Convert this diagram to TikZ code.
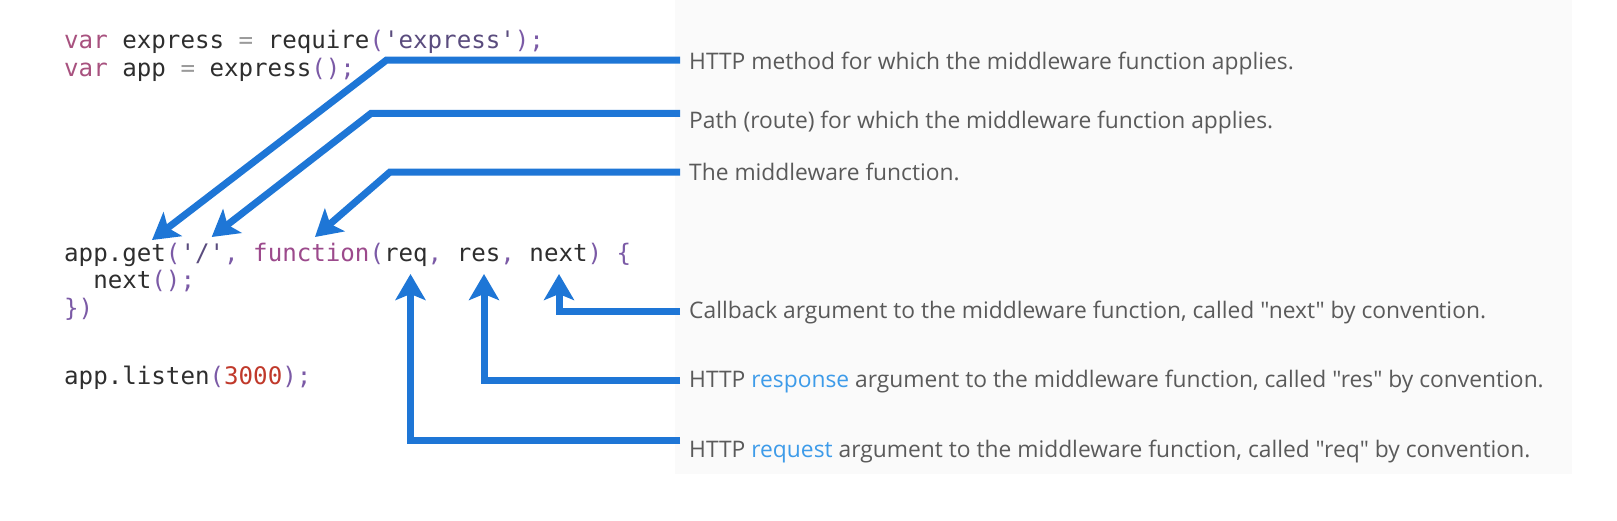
\documentclass[tikz,border=0pt]{standalone}
\usepackage{fontspec}
\usetikzlibrary{arrows.meta}
\newfontfamily\codefont{DejaVu Sans Mono}
\newfontfamily\labfont{Open Sans}
\definecolor{arrowblue}{HTML}{1E76D6}
\definecolor{panelgray}{HTML}{FAFAFA}
\definecolor{kwc}{HTML}{A8527F}
\definecolor{plainc}{HTML}{2E2E2E}
\definecolor{opc}{HTML}{9A9A9A}
\definecolor{puncc}{HTML}{7B5AA6}
\definecolor{strc}{HTML}{5A4C7E}
\definecolor{funcc}{HTML}{9C4A8C}
\definecolor{numc}{HTML}{C0392B}
\definecolor{labc}{HTML}{5A5A5A}
\definecolor{hlc}{HTML}{3D9BE9}
\newcommand{\kw}[1]{\textcolor{kwc}{#1}}
\newcommand{\op}[1]{\textcolor{opc}{#1}}
\newcommand{\pu}[1]{\textcolor{puncc}{#1}}
\newcommand{\st}[1]{\textcolor{strc}{#1}}
\newcommand{\fn}[1]{\textcolor{funcc}{#1}}
\newcommand{\nm}[1]{\textcolor{numc}{#1}}
\newcommand{\hl}[1]{\textcolor{hlc}{#1}}
\newcommand{\q}{\textquotesingle}
\tikzset{
  codeline/.style={anchor=base west, inner sep=0pt, text=plainc,
    font=\codefont\fontsize{24.15}{28}\selectfont},
  labeltext/.style={anchor=base west, inner sep=0pt, text=labc,
    font=\labfont\fontsize{22.8}{27}\selectfont},
  arr/.style={draw=arrowblue, line width=7pt,
    -{Stealth[length=26pt,width=30pt,inset=6pt]}}
}
\begin{document}
\begin{tikzpicture}[x=1pt,y=-1pt]
\useasboundingbox (0,0) rectangle (1617,520);
\fill[white] (0,0) rectangle (1617,520);
\fill[panelgray] (675,0) rectangle (1572,474);

% code
\node[codeline] (c1) at (64,48) {\kw{var} express \op{=} require\pu{(}\st{\q express\q}\pu{);}};
\node[codeline] (c2) at (64,76) {\kw{var} app \op{=} express\pu{();}};
\node[codeline] (c3) at (64,261) {app.get\pu{(}\st{\q/\q}\pu{,} \fn{function}\pu{(}req\pu{,} res\pu{,} next\pu{)} \pu{\{}};
\node[codeline] (c4) at (64,288.5) {\phantom{xx}next\pu{();}};
\node[codeline] (c5) at (64,316) {\pu{\})}};
\node[codeline] (c6) at (64,384) {app.listen\pu{(}\nm{3000}\pu{);}};

% labels
\node[labeltext] (t1) at (689,69.5) {HTTP method for which the middleware function applies.};
\node[labeltext] (t2) at (689,128) {Path (route) for which the middleware function applies.};
\node[labeltext] (t3) at (689,180.5) {The middleware function.};
\node[labeltext] (t4) at (689,318.5) {Callback argument to the middleware function, called "next" by convention.};
\node[labeltext] (t5) at (689,387.5) {HTTP \hl{response} argument to the middleware function, called "res" by convention.};
\node[labeltext] (t6) at (689,457) {HTTP \hl{request} argument to the middleware function, called "req" by convention.};

% connector coordinates
\coordinate (s1) at (680,60);
\coordinate (s2) at (680,113.4);
\coordinate (s3) at (680,172);
\coordinate (s4) at (680,311);
\coordinate (s5) at (680,380.5);
\coordinate (s6) at (680,440);
\coordinate (k1) at (386.6,60);
\coordinate (k2) at (371,113.4);
\coordinate (k3) at (390,172);
\coordinate (p1) at (152,240);
\coordinate (p2) at (211.7,237);
\coordinate (p3) at (315,237);
\coordinate (p4) at (559,274);
\coordinate (p5) at (484,274);
\coordinate (p6) at (410.5,274);

\draw[arr] (s1) -- (k1) -- (p1);
\draw[arr] (s2) -- (k2) -- (p2);
\draw[arr] (s3) -- (k3) -- (p3);
\draw[arr] (s4) -| (p4);
\draw[arr] (s5) -| (p5);
\draw[arr] (s6) -| (p6);
\end{tikzpicture}
\end{document}
